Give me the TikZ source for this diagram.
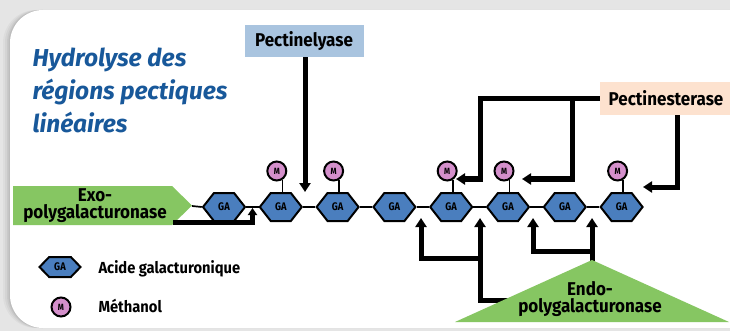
\documentclass[tikz,border=0pt]{standalone}
\usepackage{fontspec}
\setmainfont{Fira Sans}
\newfontfamily\labelfont{Fira Sans}[FakeStretch=0.92]
\newfontfamily\tinyfont{Fira Sans}[FakeStretch=0.85]
\usetikzlibrary{arrows.meta,shapes.symbols}

\definecolor{panelgray}{RGB}{229,229,229}
\definecolor{titleblue}{RGB}{24,88,154}
\definecolor{gablue}{RGB}{74,126,190}
\definecolor{mpink}{RGB}{212,143,203}
\definecolor{enzgreen}{RGB}{134,198,98}
\definecolor{lyaseblue}{RGB}{169,196,223}
\definecolor{esterpeach}{RGB}{253,226,207}

\tikzset{
  ga/.style={signal, signal to=east and west, signal pointer angle=104,
    draw=black, line width=2pt, fill=gablue, minimum width=42pt,
    minimum height=28pt, inner sep=0pt,
    font=\tinyfont\bfseries\fontsize{11}{11}\selectfont},
  galegend/.style={ga, signal pointer angle=92, minimum width=41pt, minimum height=20pt},
  meth/.style={circle, draw=black, line width=2pt, fill=mpink,
    minimum size=19pt, inner sep=0pt,
    font=\tinyfont\bfseries\fontsize{9}{9}\selectfont},
  link/.style={line width=1.7pt},
  arr/.style={line width=5pt, -{Triangle[width=11pt,length=9pt]}},
  lbl/.style={font=\labelfont\bfseries\fontsize{18.5}{17}\selectfont, text=black},
  legendtxt/.style={font=\labelfont\bfseries\fontsize{16}{16}\selectfont, text=black, anchor=base west},
  titletxt/.style={font=\bfseries\itshape\fontsize{24.5}{24}\selectfont, text=titleblue, anchor=base west},
}

\begin{document}
\begin{tikzpicture}[x=1pt,y=-1pt]
\useasboundingbox (0,0) rectangle (730,331);
\clip (0,0) rectangle (730,331);

% panel and its soft shadow
\fill[panelgray] (0,0) rectangle (730,331);
\foreach \s/\o in {7/0.03,5/0.04,3/0.05,1.5/0.06}
  \fill[black, opacity=\o, rounded corners=33pt] (10-\s,10) rectangle (780,328);
\fill[white, rounded corners=33pt] (10,10) rectangle (780,328);

% title
\node[titletxt] (title1) at (29,67)  {Hydrolyse des};
\node[titletxt] (title2) at (29,100) {régions pectiques};
\node[titletxt] (title3) at (29,133) {linéaires};

% exo-polygalacturonase
\fill[enzgreen] (13,186) -- (172,186) -- (192,205.5) -- (172,225) -- (13,225) -- cycle;
\coordinate (exotip) at (192,206);
\node[lbl, align=center] (exo) at (95,206) {Exo-\\polygalacturonase};

% enzyme labels
\node[lbl, fill=lyaseblue, minimum width=119pt, minimum height=32pt, inner sep=0pt] (lyase) at (304,41) {Pectinelyase};
\node[lbl, fill=esterpeach, minimum width=132pt, minimum height=33pt, inner sep=0pt] (ester) at (666,98.5) {Pectinesterase};

% galacturonic acid chain
\foreach \i in {1,...,8}
  \node[ga] (h\i) at ({224+56.8*(\i-1)},207) {GA};
\draw[link] (exotip) -- (h1.west);
\foreach \i [evaluate=\i as \j using int(\i+1)] in {1,...,7}
  \draw[link] (h\i.east) -- (h\j.west);

% methanol groups
\foreach \i in {2,3,5,6,8} {
  \node[meth] (m\i) at ([xshift=-4pt,yshift=36pt]h\i.center) {M};
  \draw[link] (m\i.-58) -- (m\i.-58 |- h\i.north);
}

% arrow targets
\coordinate (t12) at (252.5,208);
\coordinate (t23) at (305,192);
\coordinate (tm5) at (456,179);
\coordinate (tm6) at (522,179);
\coordinate (tm8) at (643,187);
\coordinate (t45) at (421,218);
\coordinate (t56) at (480,218);
\coordinate (t67) at (533,218);
\coordinate (t78) at (592,218);

% exo-polygalacturonase cut
\coordinate (exofoot) at (173,222.5);
\draw[arr, -{Triangle[width=9pt,length=7pt]}] (exofoot) -| (t12);

% pectinelyase cut
\draw[arr] (lyase.south -| t23) -- (t23);

% pectinesterase cuts
\coordinate (ej) at (572,98.5);
\draw[arr] (ester.west) -| (480,179) -- (tm5);
\draw[arr] (ej) |- (tm6);
\draw[arr] ([xshift=11pt]ester.south) |- (tm8);

% endo-polygalacturonase cuts
\coordinate (endotop) at (592,270);
\coordinate (endoside) at (512,300);
\draw[arr] (endotop) -- (t78);
\draw[arr] (592,251) -| (t67);
\draw[arr] (endoside) -| (t56);
\draw[arr] (480,258) -| (t45);

% endo-polygalacturonase
\fill[enzgreen] (455,322) -- (592,260) -- (729,322) -- cycle;
\node[lbl, align=center] (endo) at (590,299) {Endo-\\polygalacturonase};

% legend
\node[galegend] (lga) at (60,267) {GA};
\node[legendtxt] (lgatxt) at (95,273) {Acide galacturonique};
\node[meth] (lm) at (61,307) {M};
\node[legendtxt] (lmtxt) at (95,312) {Méthanol};
\end{tikzpicture}
\end{document}
